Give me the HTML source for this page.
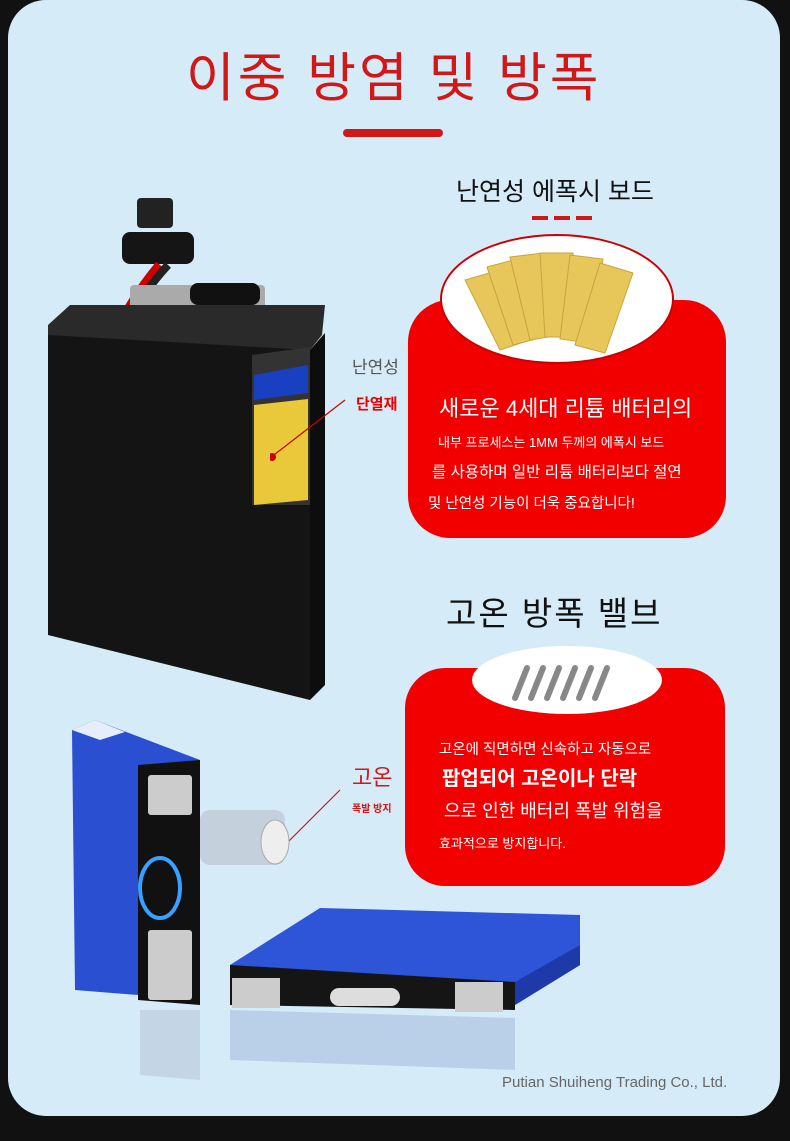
<!DOCTYPE html>
<html><head><meta charset="utf-8"><style>
*{margin:0;padding:0;box-sizing:border-box}
body{width:790px;height:1141px;background:#111;position:relative;overflow:hidden;font-family:"Liberation Sans","Noto Sans CJK KR",sans-serif}
.card{position:absolute;left:8px;top:0;width:772px;height:1116px;background:#d5ebf8;border-radius:38px}
.a{position:absolute}
.t{position:absolute;white-space:nowrap}
</style></head><body>
<div class="card"></div>
<div class="t" style="left:186px;top:36px;font-size:53px;color:#d01818;letter-spacing:3px">이중 방염 및 방폭</div>
<div class="a" style="left:343px;top:129px;width:100px;height:8px;background:#d01818;border-radius:4px"></div>
<div class="t" style="left:456px;top:172px;font-size:25px;color:#111">난연성 에폭시 보드</div>
<div class="a" style="left:532px;top:216px;width:62px;height:4px;background:repeating-linear-gradient(90deg,#d01818 0 16px,transparent 16px 22px)"></div>

<div class="a" style="left:408px;top:300px;width:318px;height:238px;background:#f20000;border-radius:42px"></div>
<div class="a" style="left:440px;top:234px;width:234px;height:130px;background:#fff;border:2px solid #c00;border-radius:50%"></div>
<svg class="a" style="left:455px;top:245px" width="200" height="120">
<g fill="#e8c75a" stroke="#c9a33d">
<polygon points="10,35 45,25 75,95 45,105"/><polygon points="32,22 62,14 88,92 58,100"/>
<polygon points="55,12 88,8 105,90 75,95"/><polygon points="85,8 118,8 120,92 90,92"/>
<polygon points="115,10 148,14 135,98 105,94"/><polygon points="145,18 178,28 150,108 120,100"/>
</g></svg>
<div class="t" style="left:439px;top:391px;font-size:22px;color:#fff">새로운 4세대 리튬 배터리의</div>
<div class="t" style="left:438px;top:432px;font-size:13px;color:#fff">내부 프로세스는 1MM 두께의 에폭시 보드</div>
<div class="t" style="left:432px;top:460px;font-size:15.5px;color:#fff">를 사용하며 일반 리튬 배터리보다 절연</div>
<div class="t" style="left:428px;top:492px;font-size:14.5px;color:#fff">및 난연성 기능이 더욱 중요합니다!</div>

<div class="t" style="left:352px;top:353px;font-size:17px;color:#555">난연성</div>
<div class="t" style="left:356px;top:393px;font-size:15px;color:#e00;font-weight:bold">단열재</div>

<div class="a" style="left:137px;top:198px;width:36px;height:30px;background:#222;border-radius:4px"></div>
<div class="a" style="left:122px;top:232px;width:72px;height:32px;background:#151515;border-radius:8px"></div>
<svg class="a" style="left:40px;top:255px" width="290" height="450">
<path d="M120 10 Q95 40 80 70" stroke="#c00" stroke-width="10" fill="none"/>
<path d="M128 10 Q100 40 90 70" stroke="#222" stroke-width="8" fill="none"/>
<rect x="90" y="30" width="135" height="40" fill="#aaa" rx="4"/>
<rect x="150" y="28" width="70" height="22" fill="#111" rx="8"/>
<polygon points="8,70 30,50 285,50 282,80 270,95 8,85" fill="#2a2a2a"/>
<polygon points="8,80 270,95 270,445 8,380" fill="#141414"/>
<polygon points="270,95 285,78 285,430 270,445" fill="#0d0d0d"/>
<polygon points="212,100 270,92 270,250 212,250" fill="#333"/>
<polygon points="214,120 268,110 268,138 214,145" fill="#1840c0"/>
<polygon points="214,150 268,144 268,245 214,250" fill="#e9c93a"/>
</svg>
<svg class="a" style="left:270px;top:380px" width="140" height="90"><line x1="0" y1="78" x2="75" y2="20" stroke="#c00" stroke-width="1.2"/><circle cx="2" cy="77" r="4" fill="#c00"/></svg>

<div class="t" style="left:446px;top:587px;font-size:33px;color:#111;letter-spacing:2px">고온 방폭 밸브</div>
<div class="a" style="left:405px;top:668px;width:320px;height:218px;background:#f20000;border-radius:40px"></div>
<div class="a" style="left:472px;top:646px;width:190px;height:68px;background:#fff;border-radius:50%"></div>
<svg class="a" style="left:505px;top:660px" width="130" height="45"><g stroke="#888" stroke-width="6" stroke-linecap="round"><line x1="10" y1="38" x2="22" y2="8"/><line x1="26" y1="38" x2="38" y2="8"/><line x1="42" y1="38" x2="54" y2="8"/><line x1="58" y1="38" x2="70" y2="8"/><line x1="74" y1="38" x2="86" y2="8"/><line x1="90" y1="38" x2="102" y2="8"/></g></svg>
<div class="t" style="left:439px;top:738px;font-size:14.5px;color:#fff">고온에 직면하면 신속하고 자동으로</div>
<div class="t" style="left:442px;top:762px;font-size:20px;color:#fff;font-weight:bold">팝업되어 고온이나 단락</div>
<div class="t" style="left:444px;top:797px;font-size:18px;color:#fff">으로 인한 배터리 폭발 위험을</div>
<div class="t" style="left:439px;top:833px;font-size:13px;color:#fff">효과적으로 방지합니다.</div>
<div class="t" style="left:352px;top:760px;font-size:22px;color:#d01818">고온</div>
<div class="t" style="left:352px;top:800px;font-size:10px;color:#d01818;font-weight:bold">폭발 방지</div>
<svg class="a" style="left:280px;top:760px" width="120" height="100"><line x1="0" y1="90" x2="60" y2="30" stroke="#c00" stroke-width="1"/></svg>

<svg class="a" style="left:60px;top:720px" width="540" height="380">
<polygon points="12,10 35,0 140,40 140,280 15,270" fill="#2a4fd0"/>
<polygon points="12,10 35,0 65,12 40,20" fill="#e6eefc"/>
<polygon points="78,45 140,40 140,285 78,280" fill="#111"/>
<rect x="88" y="55" width="44" height="40" fill="#ccc" rx="3"/>
<rect x="88" y="210" width="44" height="70" fill="#ccc" rx="3"/>
<ellipse cx="100" cy="168" rx="20" ry="30" fill="none" stroke="#3aa0ff" stroke-width="4"/>
<rect x="140" y="90" width="85" height="55" fill="#bcc6d2" opacity="0.7" rx="10"/>
<ellipse cx="215" cy="122" rx="14" ry="22" fill="#eee" stroke="#aaa"/>
<polygon points="170,245 260,188 520,195 520,245 455,285 170,280" fill="#2e54d8"/>
<polygon points="455,262 520,225 520,245 455,285" fill="#1e3aa8"/>
<polygon points="170,245 455,262 455,290 170,285" fill="#151515"/>
<rect x="172" y="258" width="48" height="30" fill="#ccc"/>
<rect x="395" y="262" width="48" height="30" fill="#ccc"/>
<rect x="270" y="268" width="70" height="18" rx="9" fill="#ddd"/>
<polygon points="170,290 455,298 455,350 170,340" fill="#8fa7cf" opacity="0.4"/>
<polygon points="80,290 140,290 140,360 80,355" fill="#aab6c8" opacity="0.4"/>
</svg>
<div class="t" style="left:502px;top:1074px;font-size:15px;color:#666">Putian Shuiheng Trading Co., Ltd.</div>
</body></html>
